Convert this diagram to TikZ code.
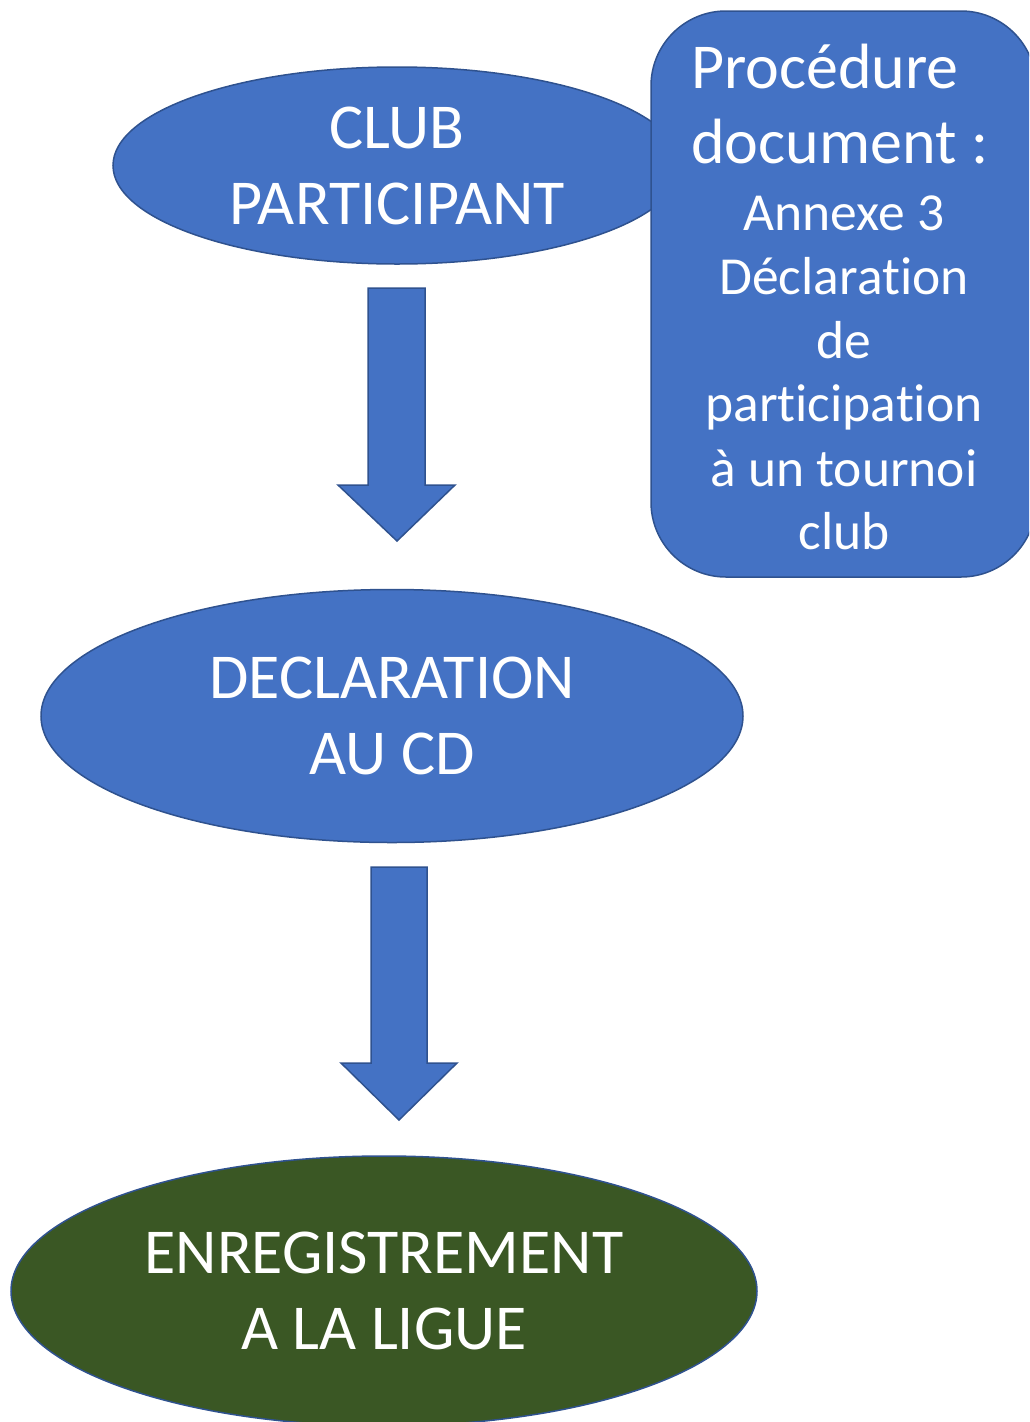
\documentclass[tikz,border=0pt]{standalone}
\usepackage{fontspec}
\setmainfont{Carlito}[Ligatures=NoCommon]
\usetikzlibrary{shapes.geometric}
\definecolor{bluefill}{HTML}{4472C4}
\definecolor{blueline}{HTML}{2F528F}
\definecolor{greenfill}{HTML}{3A5724}
\tikzset{
  stepell/.style={ellipse, draw=blueline, line width=1.5pt, fill=bluefill, inner sep=0pt,
    text=white, align=center, font=\fontsize{64}{76}\selectfont},
  blockarrow/.style={draw=blueline, line width=1.5pt, fill=bluefill, line join=miter},
  docbox/.style={rectangle, rounded corners=75pt, draw=blueline, line width=1.5pt, fill=bluefill, inner sep=0pt},
  doctext/.style={text=white, inner sep=0pt, anchor=base west, font=\fontsize{64}{77}\selectfont},
  docsmall/.style={text=white, inner sep=0pt, anchor=base, font=\fontsize{53.5}{64}\selectfont}
}
\begin{document}
\begin{tikzpicture}[x=1pt,y=-1pt]
\useasboundingbox (0,0) rectangle (1029,1422);
\begin{scope}
\clip (0,0) rectangle (1029,1422);
% top ellipse
\node[stepell, minimum width=568pt, minimum height=197pt] (club) at (397,165.5) {CLUB\\PARTICIPANT};
% document box
\node[docbox, minimum width=385pt, minimum height=566pt] (doc) at (843.5,294) {};
\node[doctext] (t1) at (691,88) {Procédure};
\node[doctext] (t2) at (691,163) {document :};
\node[docsmall] (t3) at (844,230) {Annexe 3};
\node[docsmall] (t4) at (844,294) {Déclaration};
\node[docsmall] (t5) at (844,358) {de};
\node[docsmall] (t6) at (844,421) {participation};
\node[docsmall] (t7) at (844,486) {à un tournoi};
\node[docsmall] (t8) at (844,549) {club};
% arrow 1
\draw[blockarrow] (368,288) -- (425,288) -- (425,485) -- (455,485) -- (397,541) -- (338,485) -- (368,485) -- cycle;
% middle ellipse
\node[stepell, minimum width=702pt, minimum height=253pt] (cd) at (392,716) {DECLARATION\\AU CD};
% arrow 2
\draw[blockarrow] (371,867) -- (427,867) -- (427,1063) -- (457,1063) -- (399,1120) -- (341,1063) -- (371,1063) -- cycle;
% bottom ellipse
\node[stepell, fill=greenfill, minimum width=746pt, minimum height=270pt] (ligue) at (384,1291) {ENREGISTREMENT\\A LA LIGUE};
\end{scope}
\end{tikzpicture}
\end{document}
